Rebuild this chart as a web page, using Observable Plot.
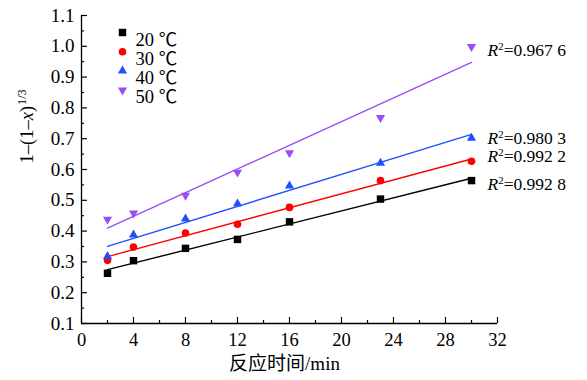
<!DOCTYPE html>
<html>
<head>
<meta charset="utf-8">
<script src="https://cdn.jsdelivr.net/npm/d3@7"></script>
<script src="https://cdn.jsdelivr.net/npm/@observablehq/plot@0.6"></script>
<style>
  body { margin: 0; background: #fff; }
  #chart { width: 587px; height: 380px; }
</style>
</head>
<body>
<div id="chart"></div>
<script>
// Reaction time (min) and conversion function 1-(1-x)^(1/3) at four temperatures
const times = [2, 4, 8, 12, 16, 23, 30];
const temps = ["20 ℃", "30 ℃", "40 ℃", "50 ℃"];
const conv20 = [0.263, 0.304, 0.344, 0.373, 0.430, 0.504, 0.564];
const conv30 = [0.305, 0.348, 0.394, 0.422, 0.477, 0.564, 0.627];
const conv40 = [0.318, 0.388, 0.440, 0.489, 0.547, 0.621, 0.702];
const conv50 = [0.438, 0.458, 0.516, 0.591, 0.654, 0.768, 0.999];
const r2Labels = ["0.992 8", "0.992 2", "0.980 3", "0.967 6"];
const xTicks = [0, 4, 8, 12, 16, 20, 24, 28, 32];
const yTicks = [1, 2, 3, 4, 5, 6, 7, 8, 9, 10, 11].map(i => i / 10);
const xTitle = "反应时间/min";
const yTitle = "1–(1–x)1/3";

const serif = "Liberation Serif";
const serifCJK = "Liberation Serif, Noto Sans CJK SC";

// Styling per series
const colors = ["#000000", "#ff0000", "#1f4fff", "#9b4cf7"];
const symbols = ["square", "circle", "triangle", "triangle"];
const rotations = [0, 0, 0, 180];
const radii = [4.2, 3.8, 3.4, 3.4];
const labelNudge = [4, -5, 0, 4];

const seriesValues = [conv20, conv30, conv40, conv50];
const rows = seriesValues.flatMap((vals, s) => vals.map((v, i) => ({series: s, t: times[i], v})));

const xMinor = d3.range(2, 32, 4);
const yMinor = d3.range(1, 11).map(i => i / 10 + 0.05);

const marks = [];

seriesValues.forEach((vals, s) => {
  const data = rows.filter(d => d.series === s);
  marks.push(Plot.linearRegressionY(data, {x: "t", y: "v", stroke: colors[s], strokeWidth: 1.4, ci: 0}));
  marks.push(Plot.dot(data, {x: "t", y: "v", symbol: symbols[s], fill: colors[s], r: radii[s], rotate: rotations[s]}));
  marks.push(Plot.text([r2Labels[s]], {
    x: times[times.length - 1], y: vals[vals.length - 1],
    text: d => "R2=" + d, textAnchor: "start", dx: 16, dy: labelNudge[s],
    fontSize: 17.5, fontFamily: serif, fill: "#000"
  }));
  // legend entry
  marks.push(Plot.dot([temps[s]], {
    frameAnchor: "top-left", dx: 41, dy: 17 + s * 19.2,
    symbol: symbols[s], fill: colors[s], r: radii[s], rotate: rotations[s]
  }));
  marks.push(Plot.text([temps[s]], {
    frameAnchor: "top-left", dx: 54, dy: 17 + s * 19.2,
    text: d => d, textAnchor: "start", fontSize: 18.5, fontFamily: serifCJK, fill: "#000"
  }));
});

// axes: inward ticks, separate label layers
marks.push(
  Plot.axisX(xTicks, {tickSize: -6, tickFormat: () => "", label: null, strokeWidth: 1.2}),
  Plot.axisX(xMinor, {tickSize: -3, tickFormat: () => "", label: null, strokeWidth: 1.2}),
  Plot.axisX(xTicks, {tickSize: 0, tickPadding: 9, fontSize: 18.5, fontFamily: serif, label: null}),
  Plot.axisY(yTicks, {tickSize: -6, tickFormat: () => "", label: null, strokeWidth: 1.2}),
  Plot.axisY(yMinor, {tickSize: -3, tickFormat: () => "", label: null, strokeWidth: 1.2}),
  Plot.axisY(yTicks, {tickSize: 0, tickPadding: 7, fontSize: 19, fontFamily: serif, tickFormat: d3.format(".1f"), label: null}),
  Plot.ruleX([0], {strokeWidth: 1.3}),
  Plot.ruleY([0.1], {strokeWidth: 1.3}),
  Plot.text([xTitle], {frameAnchor: "bottom", dx: -5, dy: 46, text: d => d, fontSize: 19, fontFamily: serifCJK}),
  Plot.text([yTitle], {frameAnchor: "left", dx: -54, dy: -6, rotate: -90, text: d => d, fontSize: 18.5, fontFamily: serif})
);

const svg = Plot.plot({
  width: 587,
  height: 380,
  marginLeft: 81,
  marginRight: 90,
  marginTop: 15,
  marginBottom: 57,
  x: {domain: [0, 32], axis: null},
  y: {domain: [0.1, 1.1], axis: null},
  style: {
    fontFamily: serif,
    fontSize: "17px",
    color: "#000",
    background: "#fff",
    overflow: "visible"
  },
  marks
});

// Rich text: italic R with superscript 2; italic x with superscript 1/3
d3.select(svg).selectAll("text").each(function () {
  const s = this.textContent;
  const el = d3.select(this);
  if (s.startsWith("R2=")) {
    el.text(null);
    el.append("tspan").attr("font-style", "italic").text("R");
    el.append("tspan").attr("font-size", "0.62em").attr("dy", -6).text("2");
    el.append("tspan").attr("dy", 6).text(s.slice(2));
  } else if (s === yTitle) {
    el.text(null);
    el.append("tspan").text("1–(1–");
    el.append("tspan").attr("font-style", "italic").text("x");
    el.append("tspan").text(")");
    el.append("tspan").attr("font-size", "0.66em").attr("dy", -7).attr("dx", 1).text("1/3");
  }
});

document.getElementById("chart").appendChild(svg);
</script>
</body>
</html>
